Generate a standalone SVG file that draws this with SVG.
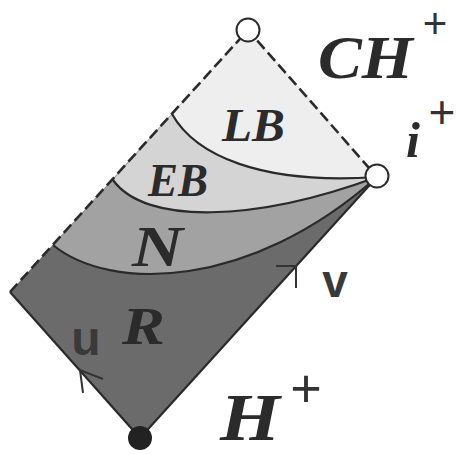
<svg xmlns="http://www.w3.org/2000/svg" width="458" height="455" viewBox="0 0 458 455">
<style>
.edge{fill:none;stroke:#2a2a2a;stroke-width:2.2;stroke-linejoin:round}
.dash{fill:none;stroke:#2a2a2a;stroke-width:2.6;stroke-dasharray:11 5}
.cal{font-family:"Liberation Serif","DejaVu Serif",serif;font-style:italic;font-weight:bold;fill:#2b2b2b}
.plus{font-family:"Liberation Sans",Arial,sans-serif;fill:#333;text-anchor:middle}
.uv{font-family:"Liberation Sans",Arial,sans-serif;font-weight:bold;fill:#3a3a3a;text-anchor:middle}
.tick{fill:none;stroke:#333;stroke-width:2}
</style>
<rect width="458" height="455" fill="#ffffff"/>
<g id="region-R">
<path d="M140,438 L10,292 L248,30 L377,177 Z" fill="#6b6b6b"/>
</g>
<g id="region-N">
<path d="M53,245 C110,292 250,290 377,177 L248,30 Z" fill="#a2a2a2"/>
</g>
<g id="region-EB">
<path d="M113,180 C145,225 255,222 377,177 L248,30 Z" fill="#d4d4d4"/>
</g>
<g id="region-LB">
<path d="M172,114 C195,155 260,185 377,177 L248,30 Z" fill="#eeeeee"/>
</g>
<g id="connectors">
<path class="edge" d="M53,245 C110,292 250,290 377,177"/>
<path class="edge" d="M113,180 C145,225 255,222 377,177"/>
<path class="edge" d="M172,114 C195,155 260,185 377,177"/>
<path class="edge" d="M140,438 L10,292"/>
<path class="edge" d="M140,438 L377,177"/>
<path class="dash" d="M10,292 L248,30 L377,177"/>
<path class="tick" d="M276,266 L296,266 L296,288"/>
<path class="tick" d="M103,379 L80,370 L83,393"/>
</g>
<g id="node-top"><circle cx="248" cy="30" r="11.5" fill="#fff" stroke="#2a2a2a" stroke-width="2"/></g>
<g id="node-iplus-point"><circle cx="377" cy="176" r="11.5" fill="#fff" stroke="#2a2a2a" stroke-width="2"/></g>
<g id="node-bottom"><circle cx="140" cy="438" r="12" fill="#222"/></g>
<g id="labels">
<text class="cal" x="318" y="78" font-size="62" textLength="95" lengthAdjust="spacingAndGlyphs">CH</text>
<text class="plus" x="435" y="38" font-size="42">+</text>
<text class="cal" x="406" y="157" font-size="50">i</text>
<text class="plus" x="442" y="128" font-size="46">+</text>
<text class="cal" x="222" y="141" font-size="46" textLength="63" lengthAdjust="spacingAndGlyphs">LB</text>
<text class="cal" x="148" y="196" font-size="46" textLength="60" lengthAdjust="spacingAndGlyphs">EB</text>
<text class="cal" x="132" y="266" font-size="58" textLength="51" lengthAdjust="spacingAndGlyphs">N</text>
<text class="cal" x="122" y="344" font-size="52" textLength="43" lengthAdjust="spacingAndGlyphs">R</text>
<text class="cal" x="220" y="440" font-size="68" textLength="60" lengthAdjust="spacingAndGlyphs">H</text>
<text class="plus" x="306" y="407" font-size="54">+</text>
<text class="uv" x="86" y="355" font-size="48">u</text>
<text class="uv" x="335" y="297" font-size="46">v</text>
</g>
</svg>
